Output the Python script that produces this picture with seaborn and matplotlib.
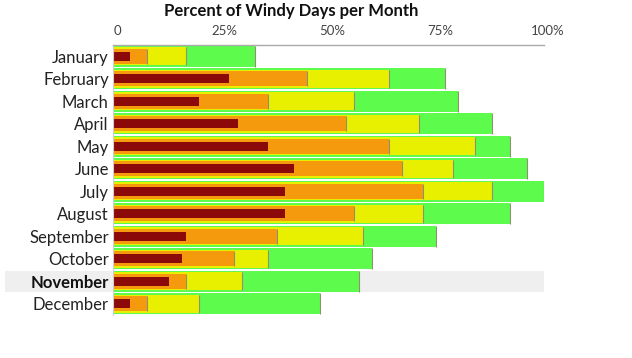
import matplotlib
matplotlib.use("Agg")
import matplotlib.pyplot as plt
import matplotlib.transforms as mtransforms
from matplotlib.patches import Rectangle
import seaborn as sns
import pandas as pd

months = ["January", "February", "March", "April", "May", "June", "July",
          "August", "September", "October", "November", "December"]
# cumulative percentages for each wind class
total = [33, 77, 80, 88, 92, 96, 100, 92, 75, 60, 57, 48]      # green
windy = [17, 64, 56, 71, 84, 79, 88, 72, 58, 36, 30, 20]       # yellow
strong = [8, 45, 36, 54, 64, 67, 72, 56, 38, 28, 17, 8]        # orange
gale = [4, 27, 20, 29, 36, 42, 40, 40, 17, 16, 13, 4]          # dark red
tick_vals = [0, 25, 50, 75, 100]
tick_labels = ["0", "25%", "50%", "75%", "100%"]
highlight = "November"

df = pd.DataFrame({"month": months, "total": total, "windy": windy,
                   "strong": strong, "gale": gale})

sns.set_theme(style="white")
plt.rcParams["font.family"] = ["Lato", "DejaVu Sans"]

fig = plt.figure(figsize=(6.32, 3.58), dpi=100)
ax = fig.add_axes([113 / 632, 1 - 315 / 358, (544 - 113) / 632, (315 - 45) / 358])

# highlight band for November
hi = months.index(highlight)
trans = mtransforms.blended_transform_factory(fig.transFigure, ax.transData)
band = Rectangle((5 / 632, hi - 0.47), (544 - 5) / 632, 0.94, transform=trans,
                 facecolor="#efefef", edgecolor="none", clip_on=False, zorder=0)
ax.add_patch(band)

layers = [("total", "#5cfb4c", 0.93), ("windy", "#e8f000", 0.80),
          ("strong", "#f59a0c", 0.66), ("gale", "#8b0909", 0.40)]
ypos = list(range(len(months)))
for col, color, w in layers:
    sns.barplot(data=df, x=col, y="month", orient="h", color=color, width=w,
                saturation=1, edgecolor="none", linewidth=0, ax=ax, zorder=2)
    if col != "gale":
        ax.vlines(df[col], [y - w / 2 for y in ypos], [y + w / 2 for y in ypos],
                  colors="#8d9270", linewidth=0.8, zorder=2.5)

ax.set_xlim(0, 100)
ax.set_ylim(11.5, -0.5)
ax.xaxis.tick_top()
ax.set_xticks(tick_vals)
ax.set_xticklabels(tick_labels, fontsize=9.5, color="#444444")
ax.tick_params(axis="x", length=0, pad=6)
ax.tick_params(axis="y", length=0, pad=3)
offset = mtransforms.ScaledTranslation(4 / 100, 0, fig.dpi_scale_trans)
for lbl in ax.get_xticklabels():
    lbl.set_transform(lbl.get_transform() + offset)
ax.set_xlabel("")
ax.set_ylabel("")
for lbl in ax.get_yticklabels():
    lbl.set_fontsize(12)
    lbl.set_color("#222222")
    if lbl.get_text() == highlight:
        lbl.set_fontweight("bold")
        lbl.set_color("#111111")

for s in ["right", "bottom"]:
    ax.spines[s].set_visible(False)
ax.spines["top"].set_color("#aaaaaa")
ax.spines["top"].set_linewidth(1)
ax.spines["left"].set_color("#cfcfcf")
ax.spines["left"].set_linewidth(0.8)

fig.text(291 / 632, 1 - 11 / 358, "Percent of Windy Days per Month",
         ha="center", va="center", fontsize=12, fontweight="bold", color="#111111")

fig.savefig("out.png", dpi=100)
